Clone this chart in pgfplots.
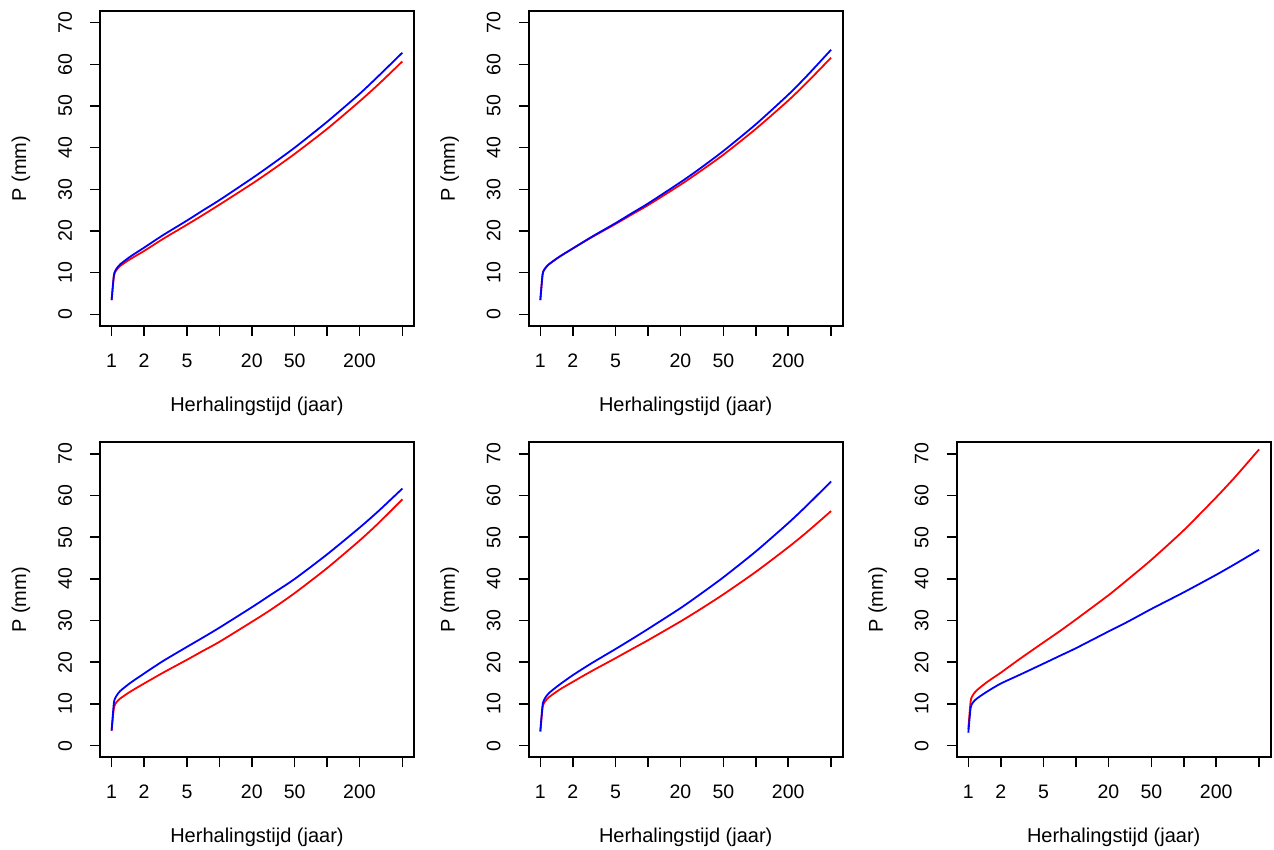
\documentclass[border=0pt]{standalone}
\usepackage{pgfplots}
\usepackage{pgfplotstable}
\pgfplotsset{compat=1.18}
\usepackage{fontspec}
\setmainfont{Liberation Sans}

% T = herhalingstijd (jaar), rood en blauw in mm
\pgfplotstableread{
T     red   blue
1     3.4   3.4
1.05  9.2   9.4
1.1   10.5  10.8
1.2   11.6  12.0
1.5   13.3  13.9
2     15.2  16.0
3     18.1  19.0
5     21.5  22.5
7     23.8  24.9
10    26.3  27.4
20    31.3  32.6
30    34.4  35.8
50    38.5  40.0
100   44.5  46.2
200   51.1  52.9
300   55.2  57.2
500   60.7  62.8
}\pa
\pgfplotstableread{
T     red   blue
1     3.4   3.4
1.05  9.6   9.6
1.1   10.9  10.9
1.2   12.0  12.0
1.5   13.8  13.8
2     15.8  15.8
3     18.5  18.6
5     21.7  21.9
7     23.9  24.2
10    26.2  26.6
20    31.1  31.7
30    34.2  34.9
50    38.3  39.2
100   44.5  45.6
200   51.3  52.7
300   55.7  57.3
500   61.6  63.5
}\pb
\pgfplotstableread{
T     red   blue
1     3.6   3.6
1.05  9.0   10.3
1.1   10.3  11.8
1.2   11.3  13.1
1.5   13.0  15.1
2     14.9  17.3
3     17.5  20.3
5     20.6  23.7
7     22.7  25.9
10    24.9  28.3
20    29.7  33.2
30    32.6  36.2
50    36.6  40.0
100   42.6  45.9
200   49.2  52.3
300   53.4  56.3
500   59.1  61.7
}\pc
\pgfplotstableread{
T     red   blue
1     3.4   3.4
1.05  9.2   9.8
1.1   10.5  11.3
1.2   11.6  12.6
1.5   13.4  14.6
2     15.3  16.9
3     17.9  19.8
5     21.0  23.2
7     23.1  25.5
10    25.3  28.0
20    29.8  33.0
30    32.6  36.2
50    36.3  40.4
100   41.7  46.6
200   47.6  53.4
300   51.3  57.7
500   56.3  63.4
}\pd
\pgfplotstableread{
T     red   blue
1     4.0   3.1
1.05  10.6  9.0
1.1   12.1  10.3
1.2   13.3  11.3
1.5   15.3  13.0
2     17.5  14.9
3     20.8  17.0
5     24.8  19.7
7     27.4  21.5
10    30.3  23.4
20    36.1  27.4
30    39.8  29.7
50    44.6  32.8
100   51.7  36.8
200   59.6  41.0
300   64.5  43.6
500   71.1  47.0
}\pe

\pgfplotsset{
  rplot/.style={
    scale only axis, width=157pt, height=157.5pt,
    anchor=south west,
    xmin=0.78, xmax=641,
    ymin=-2.8, ymax=72.8,
    xtick={1,2,5,10,20,50,100,200,500},
    xticklabels={1,2,5,,20,50,,200,},
    xminorticks=false,
    ytick={0,10,...,70},
    tick align=outside, tick pos=left,
    major tick length=5pt,
    every tick/.style={black, line width=0.8pt},
    axis line style={line width=0.8pt},
    /pgf/number format/assume math mode=true,
    tick label style={font=\fontsize{9.75}{11}\selectfont},
    label style={font=\fontsize{9.75}{11}\selectfont},
    xticklabel shift=5.5pt,
    yticklabel shift=5.5pt,
    yticklabel style={rotate=90, anchor=south},
    xlabel={Herhalingstijd (jaar)},
    ylabel={P (mm)},
    every axis x label/.style={at={(axis description cs:0.5,-0.254)}, anchor=center},
    every axis y label/.style={at={(axis description cs:-0.252,0.5)}, rotate=90, anchor=center},
  },
  rline/.style={red, line width=0.9pt, smooth, tension=0.4, no marks},
  bline/.style={blue, line width=0.9pt, smooth, tension=0.4, no marks},
}

\begin{document}
\begin{tikzpicture}
\path[use as bounding box] (0pt,0pt) rectangle (637pt,425pt);

\begin{semilogxaxis}[rplot, at={(50pt,262pt)}]
  \addplot[rline] table[x=T, y=red] {\pa};
  \addplot[bline] table[x=T, y=blue] {\pa};
\end{semilogxaxis}

\begin{semilogxaxis}[rplot, at={(264.35pt,262pt)}]
  \addplot[rline] table[x=T, y=red] {\pb};
  \addplot[bline] table[x=T, y=blue] {\pb};
\end{semilogxaxis}

\begin{semilogxaxis}[rplot, at={(50pt,46.35pt)}]
  \addplot[rline] table[x=T, y=red] {\pc};
  \addplot[bline] table[x=T, y=blue] {\pc};
\end{semilogxaxis}

\begin{semilogxaxis}[rplot, at={(264.35pt,46.35pt)}]
  \addplot[rline] table[x=T, y=red] {\pd};
  \addplot[bline] table[x=T, y=blue] {\pd};
\end{semilogxaxis}

\begin{semilogxaxis}[rplot, at={(478.35pt,46.35pt)}]
  \addplot[rline] table[x=T, y=red] {\pe};
  \addplot[bline] table[x=T, y=blue] {\pe};
\end{semilogxaxis}
\end{tikzpicture}
\end{document}
